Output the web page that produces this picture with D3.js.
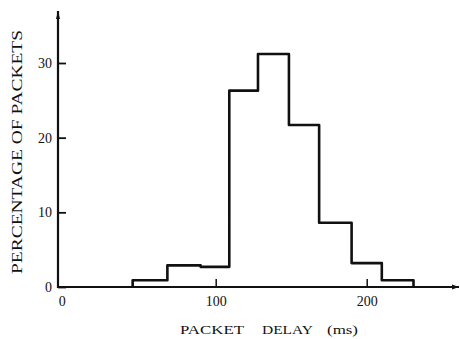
<!DOCTYPE html>
<html><head><meta charset="utf-8">
<script src="https://cdn.jsdelivr.net/npm/d3@7"></script>
<style>
html,body{margin:0;padding:0;background:#fff;}
svg{display:block;}
text{font-family:"Liberation Serif","DejaVu Serif",serif;fill:#111;}
</style></head>
<body>
<svg id="c" width="460" height="339"></svg>
<script>
// Histogram bin edges (ms) and percentages
const binEdges = [45, 68, 90, 109, 128, 148.5, 168.5, 190, 210, 231];
const percentages = [0.9, 2.9, 2.7, 26.3, 31.2, 21.7, 8.6, 3.2, 0.9];
const xTicks = [0, 100, 200];
const yTicks = [0, 10, 20, 30];
const xTitleWords = ["PACKET", "DELAY", "(ms)"];
const yTitle = "PERCENTAGE  OF  PACKETS";

const svg = d3.select("#c");
const x = d3.scaleLinear().domain([0, 200]).range([64.7, 366.7]);
const y = d3.scaleLinear().domain([0, 30]).range([287, 63]);

const xMin = x.invert(58), xMax = x.invert(459);
const yMax = y.invert(11);

// axis lines
svg.append("line").attr("x1", x(xMin)).attr("x2", x(xMax)).attr("y1", y(0)).attr("y2", y(0))
  .attr("stroke", "#111").attr("stroke-width", 2);
svg.append("line").attr("x1", x(xMin)).attr("x2", x(xMin)).attr("y1", y(0) + 1).attr("y2", y(yMax))
  .attr("stroke", "#111").attr("stroke-width", 2.2);
// arrowheads
svg.append("path").attr("d", `M${x(xMax)},${y(0)} l-7,-2.5 l0,5 z`).attr("fill", "#111");
svg.append("path").attr("d", `M${x(xMin)},${y(yMax)} l-2,8 l4,0 z`).attr("fill", "#111");

// y axis ticks (inward)
const yAxis = d3.axisLeft(y).tickValues(yTicks).tickSizeInner(-8).tickSizeOuter(0).tickPadding(6)
  .tickFormat(d3.format("d"));
const gy = svg.append("g").attr("transform", `translate(${x(xMin)},0)`).call(yAxis);
gy.select(".domain").remove();
gy.selectAll(".tick line").attr("stroke", "#111").attr("stroke-width", 1.8);
gy.selectAll(".tick text").style("font-size", "14px").style("font-family", '"Liberation Serif",serif').attr("fill", "#111");

// x axis ticks (inward, pointing up)
const xAxis = d3.axisBottom(x).tickValues(xTicks).tickSizeInner(-8).tickSizeOuter(0).tickPadding(9)
  .tickFormat(d3.format("d"));
const gx = svg.append("g").attr("transform", `translate(0,${y(0)})`).call(xAxis);
gx.select(".domain").remove();
gx.selectAll(".tick line").attr("stroke", "#111").attr("stroke-width", 1.5);
gx.selectAll(".tick text").style("font-size", "14px").style("font-family", '"Liberation Serif",serif').attr("fill", "#111");
gx.selectAll(".tick").filter(d => d === 0).select("line").remove();
gx.selectAll(".tick").filter(d => d === 0).select("text").attr("dx", -3);

// histogram step outline
let pts = [[x(binEdges[0]), y(0)]];
percentages.forEach((v, i) => {
  pts.push([x(binEdges[i]), y(v)]);
  pts.push([x(binEdges[i + 1]), y(v)]);
});
pts.push([x(binEdges[binEdges.length - 1]), y(0)]);
svg.append("path").attr("d", d3.line()(pts)).attr("fill", "none")
  .attr("stroke", "#111").attr("stroke-width", 2.6).attr("stroke-linejoin", "round");

// x title
const xTitlePos = [[180, 64], [262, 51], [327, 31]];
xTitleWords.forEach((w, i) => {
  svg.append("text").attr("x", xTitlePos[i][0]).attr("y", 334)
    .attr("textLength", xTitlePos[i][1]).attr("lengthAdjust", "spacingAndGlyphs")
    .style("font-size", i === 2 ? "12px" : "13px").text(w);
});

// y title
svg.append("text").attr("transform", "translate(22,152) rotate(-90)")
  .attr("text-anchor", "middle").attr("textLength", 244).attr("lengthAdjust", "spacingAndGlyphs")
  .style("font-size", "14px").text(yTitle);
</script>
</body></html>
